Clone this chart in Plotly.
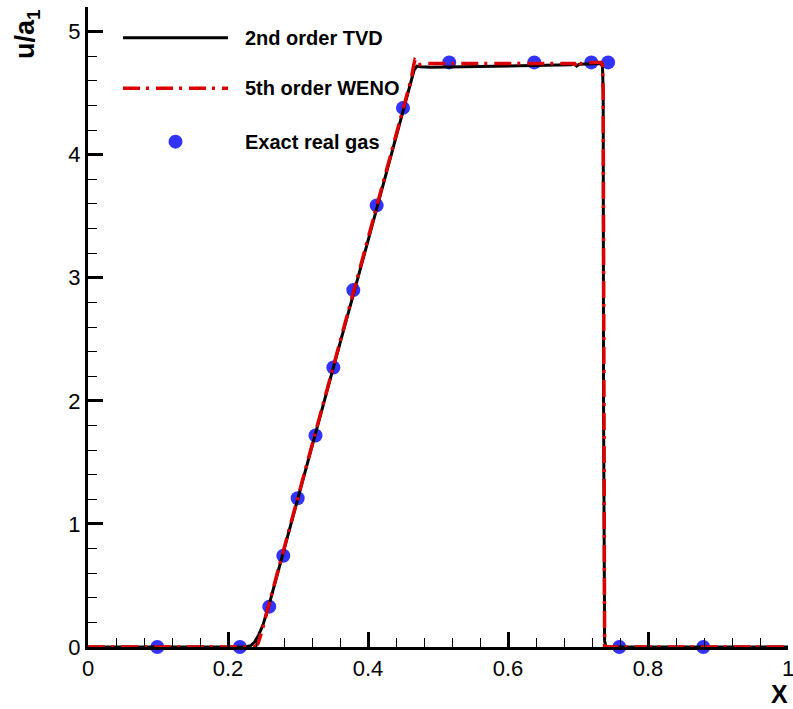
import plotly.graph_objects as go

# 2nd order TVD solution (velocity ratio u/a1 vs. x)
tvd_x = [0.0, 0.225, 0.232, 0.238, 0.244, 0.250, 0.260, 0.300, 0.350, 0.400, 0.440,
         0.455, 0.462, 0.466, 0.470, 0.475, 0.490, 0.550, 0.600, 0.650, 0.690,
         0.695, 0.698, 0.702, 0.720, 0.732, 0.735, 0.736, 0.7365, 0.737, 0.738, 0.740, 1.0]
tvd_y = [0.0, 0.0, 0.01, 0.04, 0.10, 0.18, 0.37, 1.20, 2.26, 3.30, 4.13,
         4.45, 4.60, 4.69, 4.72, 4.715, 4.71, 4.715, 4.72, 4.725, 4.73,
         4.74, 4.72, 4.735, 4.74, 4.74, 4.72, 4.50, 2.00, 0.30, 0.05, 0.0, 0.0]

# 5th order WENO solution
weno_x = [0.0, 0.238, 0.243, 0.248, 0.260, 0.300, 0.350, 0.400, 0.440, 0.455,
          0.462, 0.465, 0.467, 0.469, 0.472, 0.480, 0.550, 0.600, 0.650, 0.695,
          0.698, 0.700, 0.703, 0.720, 0.733, 0.735, 0.736, 0.7365, 0.737, 0.738, 1.0]
weno_y = [0.0, 0.0, 0.03, 0.12, 0.38, 1.22, 2.27, 3.31, 4.14, 4.46,
          4.62, 4.72, 4.77, 4.76, 4.73, 4.74, 4.74, 4.74, 4.74, 4.74,
          4.72, 4.75, 4.74, 4.75, 4.75, 4.73, 4.50, 2.00, 0.20, 0.0, 0.0]

# Exact real-gas solution samples
exact_x = [0.099, 0.217, 0.259, 0.279, 0.2995, 0.325, 0.3505, 0.379, 0.4124, 0.450,
           0.516, 0.6376, 0.719, 0.743, 0.759, 0.879]
exact_y = [0.0, 0.0, 0.328, 0.742, 1.209, 1.718, 2.271, 2.90, 3.588, 4.38,
           4.75, 4.75, 4.75, 4.75, 0.0, 0.0]

legend_labels = ["2nd order TVD", "5th order WENO", "Exact real gas"]
x_ticks = [0, 0.2, 0.4, 0.6, 0.8, 1]
x_tick_text = ["0", "0.2", "0.4", "0.6", "0.8", "1"]
y_ticks = [0, 1, 2, 3, 4, 5]

FONT = "Liberation Sans, Arial, sans-serif"
BLUE = "#3333ff"
RED = "#dd0000"
WENO_DASH = "17px,6px,3px,7px"

# plot-area geometry in pixels (used to place the free-standing titles)
L, R, T, B = 88, 5, 7, 62
W, H = 793, 709
PW, PH = W - L - R, H - T - B


def px_to_paper(px, py):
    return (px - L) / PW, (H - B - py) / PH


fig = go.Figure()

fig.add_trace(go.Scatter(
    x=exact_x, y=exact_y, mode="markers",
    marker=dict(color=BLUE, size=14, line=dict(width=0)),
    name=legend_labels[2], showlegend=False, cliponaxis=False,
))
fig.add_trace(go.Scatter(
    x=tvd_x, y=tvd_y, mode="lines",
    line=dict(color="black", width=3),
    name=legend_labels[0], showlegend=False,
))
fig.add_trace(go.Scatter(
    x=weno_x, y=weno_y, mode="lines",
    line=dict(color=RED, width=3.5, dash=WENO_DASH),
    name=legend_labels[1], showlegend=False,
))

# Hand-built legend in the upper-left corner
leg_x0, leg_x1, leg_text_x = 0.05, 0.20, 0.221
leg_rows = [4.95, 4.54, 4.106]
fig.add_shape(type="line", xref="x", yref="y", x0=leg_x0, x1=leg_x1,
              y0=leg_rows[0], y1=leg_rows[0], line=dict(color="black", width=3))
fig.add_shape(type="line", xref="x", yref="y", x0=leg_x0, x1=leg_x1,
              y0=leg_rows[1], y1=leg_rows[1],
              line=dict(color=RED, width=3.5, dash=WENO_DASH))
fig.add_shape(type="circle", xref="x", yref="y", xsizemode="pixel", ysizemode="pixel",
              xanchor=(leg_x0 + leg_x1) / 2, yanchor=leg_rows[2],
              x0=-7, x1=7, y0=-7, y1=7,
              fillcolor=BLUE, line=dict(width=0))
for label, yy in zip(legend_labels, leg_rows):
    fig.add_annotation(x=leg_text_x, y=yy, xref="x", yref="y", text=f"<b>{label}</b>",
                       showarrow=False, xanchor="left", yanchor="middle",
                       font=dict(family=FONT, size=20, color="black"))

# Axis titles
xt_x, xt_y = px_to_paper(779, 694)
fig.add_annotation(x=xt_x, y=xt_y, xref="paper", yref="paper", text="<b>X</b>",
                   showarrow=False, xanchor="center", yanchor="middle",
                   font=dict(family=FONT, size=25, color="black"))
yt_x, yt_y = px_to_paper(27, 34)
fig.add_annotation(x=yt_x, y=yt_y, xref="paper", yref="paper", text="<b>u/a<sub>1</sub></b>",
                   textangle=-90, showarrow=False, xanchor="center", yanchor="middle",
                   font=dict(family=FONT, size=27, color="black"))

axis_common = dict(
    showgrid=False, zeroline=False, showline=True, linecolor="black", linewidth=3,
    ticks="inside", ticklen=15, tickwidth=2.5, tickcolor="black",
    tickfont=dict(family=FONT, size=22, color="black"),
    mirror=False, ticklabeloverflow="allow",
)
fig.update_xaxes(range=[0, 1], tickvals=x_ticks, ticktext=x_tick_text,
                 minor=dict(ticks="inside", ticklen=9, tickwidth=1, tickcolor="black", dtick=0.04, tick0=0),
                 **axis_common)
fig.update_yaxes(range=[0, 5.2], tickvals=y_ticks,
                 minor=dict(ticks="inside", ticklen=9, tickwidth=1, tickcolor="black", dtick=0.2, tick0=0),
                 **axis_common)

fig.update_layout(
    width=W, height=H,
    margin=dict(l=L, r=R, t=T, b=B, autoexpand=False),
    plot_bgcolor="white", paper_bgcolor="white",
    font=dict(family=FONT, color="black"),
    showlegend=False,
)

fig.write_html("out.html")
